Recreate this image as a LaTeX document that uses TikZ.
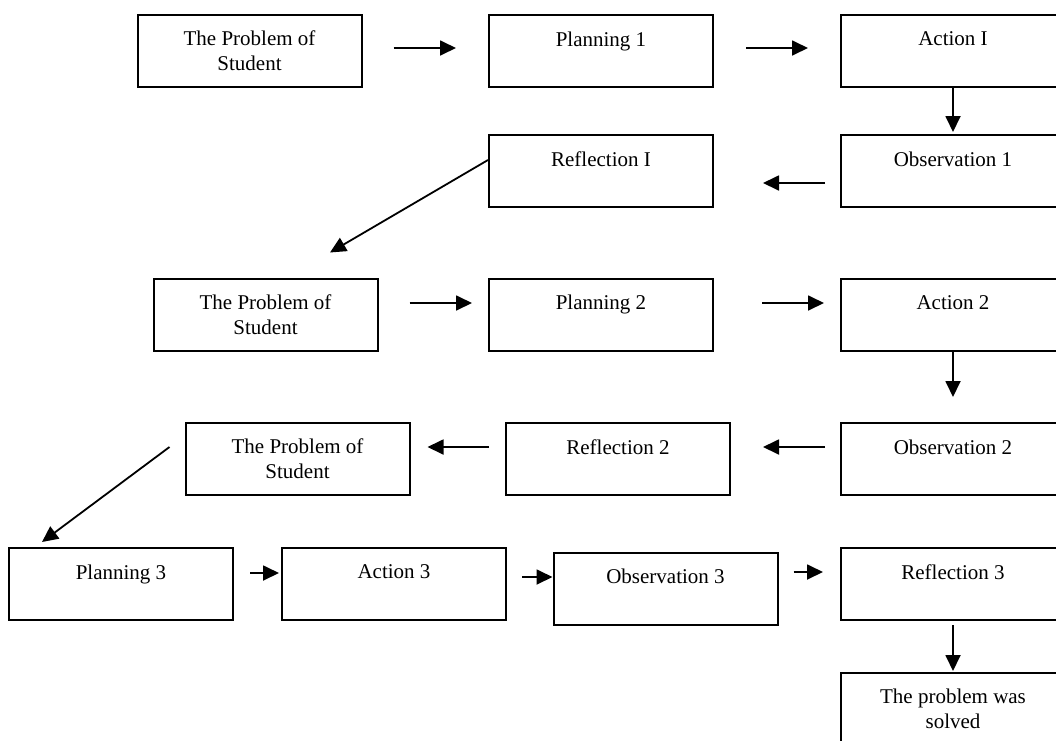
\documentclass[tikz,border=0pt]{standalone}
\usepackage{fontspec}
\setmainfont{Liberation Serif}
\usetikzlibrary{arrows.meta, calc}

\begin{document}
\begin{tikzpicture} [x = 0.5pt, y = -0.5pt,
  box/.style = {draw, line width = 1pt, minimum width = 112pt, minimum height = 36pt, inner sep = 0pt, align = center, font = \fontsize{10.5}{12.5}\selectfont},
  one/.style = {text depth = 12pt},
  arr/.style = {-{Triangle[length = 8pt, width = 7.5pt]}, line width = 0.9pt}]
\useasboundingbox (0,0) rectangle (1056,740);
\node[box] (prob1) at (249.5,51) {The Problem of\\Student};
\node[box, one] (plan1) at (601,51) {Planning 1};
\node[box, one] (act1) at (953,51) {Action I};
\node[box, one] (refl1) at (601,171) {Reflection I};
\node[box, one] (obs1) at (953,171) {Observation 1};
\node[box] (prob2) at (265.5,314.5) {The Problem of\\Student};
\node[box, one] (plan2) at (601,314.5) {Planning 2};
\node[box, one] (act2) at (953,314.5) {Action 2};
\node[box] (prob3) at (297.5,459) {The Problem of\\Student};
\node[box, one] (refl2) at (618,459) {Reflection 2};
\node[box, one] (obs2) at (953,459) {Observation 2};
\node[box, one] (plan3) at (121,584) {Planning 3};
\node[box, one] (act3) at (394,584) {Action 3};
\node[box, one] (obs3) at (665.5,588.5) {Observation 3};
\node[box, one] (refl3) at (953,584) {Reflection 3};
\node[box] (solved) at (953,709) {The problem was\\solved};
\draw [arr] ($(prob1.east)+(31,-3)$) -- ($(plan1.west)+(-32,-3)$);
\draw [arr] ($(plan1.east)+(32,-3)$) -- ($(act1.west)+(-32,-3)$);
\draw [arr] (act1.south) -- ($(obs1.north)+(0,-2)$);
\draw [arr] ($(obs1.west)+(-15,12)$) -- ($(refl1.east)+(49,12)$);
\draw [arr] ($(refl1.west)+(0,-11)$) -- ($(prob2.north)+(64.5,-25)$);
\draw [arr] ($(prob2.east)+(31,-11.5)$) -- ($(plan2.west)+(-16,-11.5)$);
\draw [arr] ($(plan2.east)+(48,-11.5)$) -- ($(act2.west)+(-16,-11.5)$);
\draw [arr] (act2.south) -- ($(obs2.north)+(0,-25)$);
\draw [arr] ($(obs2.west)+(-15,-12)$) -- ($(refl2.east)+(32,-12)$);
\draw [arr] ($(refl2.west)+(-16,-12)$) -- ($(prob3.east)+(17,-12)$);
\draw [arr] ($(prob3.west)+(-15,-12)$) -- ($(plan3.north)+(-79,-5)$);
\draw [arr] ($(plan3.east)+(16,-11)$) -- ($(act3.west)+(-2,-11)$);
\draw [arr] ($(act3.east)+(15,-7)$) -- ($(obs3.west)+(0,-11.5)$);
\draw [arr] ($(obs3.east)+(15,-16.5)$) -- ($(refl3.west)+(-17,-12)$);
\draw [arr] ($(refl3.south)+(0,4)$) -- ($(solved.north)+(0,-1)$);
\end{tikzpicture}
\end{document}
